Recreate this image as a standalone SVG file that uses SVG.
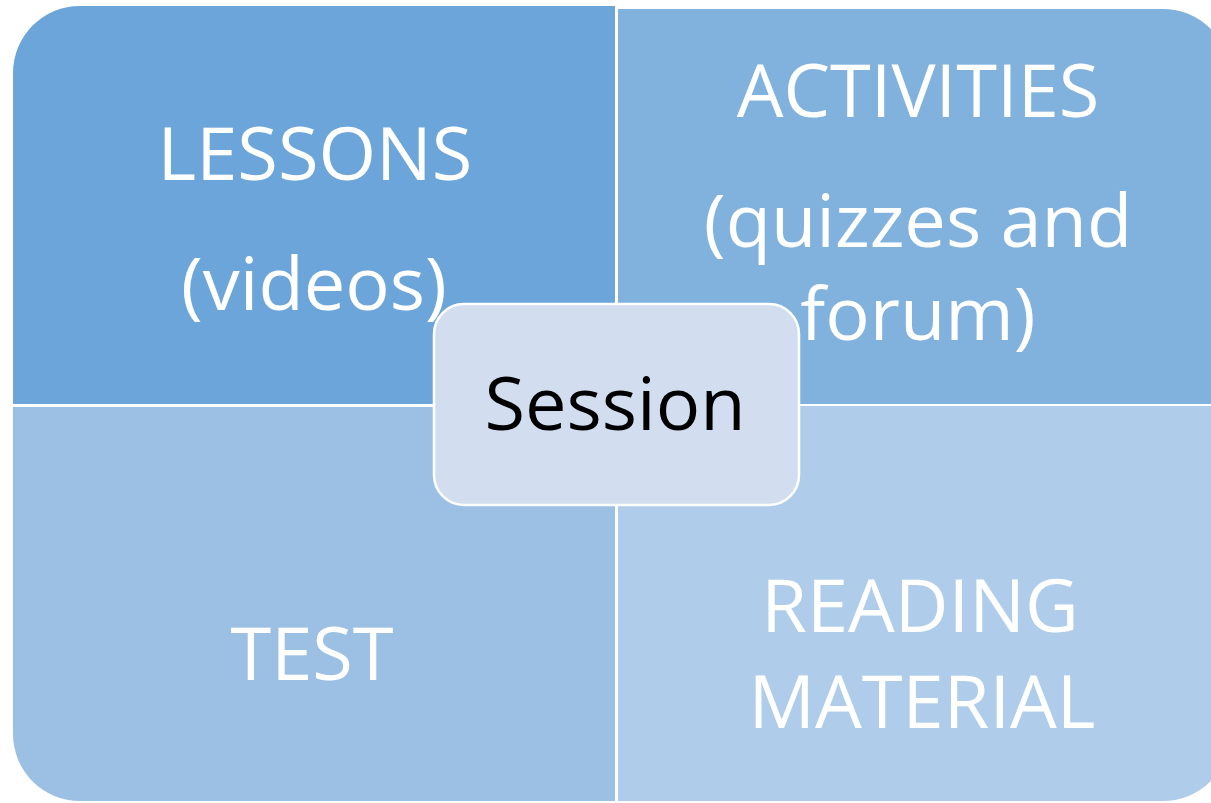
<svg xmlns="http://www.w3.org/2000/svg" width="1211" height="803" viewBox="0 0 1211 803">
<style>
.q{stroke:none}
.t{font-family:"Open Sans","Liberation Sans",sans-serif;font-size:74px;fill:#ffffff;text-anchor:middle}
.c{font-family:"Open Sans","Liberation Sans",sans-serif;font-size:74px;fill:#000000;text-anchor:middle}
</style>
<rect width="1211" height="803" fill="#ffffff"/>
<g id="lessons">
<path class="q" fill="#6CA5DA" d="M13,73 A67,67 0 0 1 80,6 L615,6 L615,404 L13,404 Z"/>
<text class="t" x="315" y="180">LESSONS</text>
<text class="t" x="314" y="310">(videos)</text>
</g>
<g id="activities">
<path class="q" fill="#80B2DD" d="M618,9 L1163,9 A67,67 0 0 1 1230,76 L1230,404 L618,404 Z"/>
<text class="t" x="918" y="117">ACTIVITIES</text>
<text class="t" x="918" y="247">(quizzes and</text>
<text class="t" x="918" y="340">forum)</text>
</g>
<g id="test">
<path class="q" fill="#9BC0E4" d="M13,407 L615,407 L615,801 L80,801 A67,67 0 0 1 13,734 Z"/>
<text class="t" x="312" y="680">TEST</text>
</g>
<g id="reading">
<path class="q" fill="#AFCDEA" d="M618,406 L1230,406 L1230,734 A67,67 0 0 1 1163,801 L618,801 Z"/>
<text class="t" x="920" y="632">READING</text>
<text class="t" x="922" y="728">MATERIAL</text>
</g>
<g id="connectors"></g>
<g id="session">
<rect x="434" y="304" width="365" height="201" rx="30" ry="30" fill="#D2DEEF" stroke="#ffffff" stroke-width="2.5"/>
<text class="c" x="615" y="430">Session</text>
</g>
</svg>
